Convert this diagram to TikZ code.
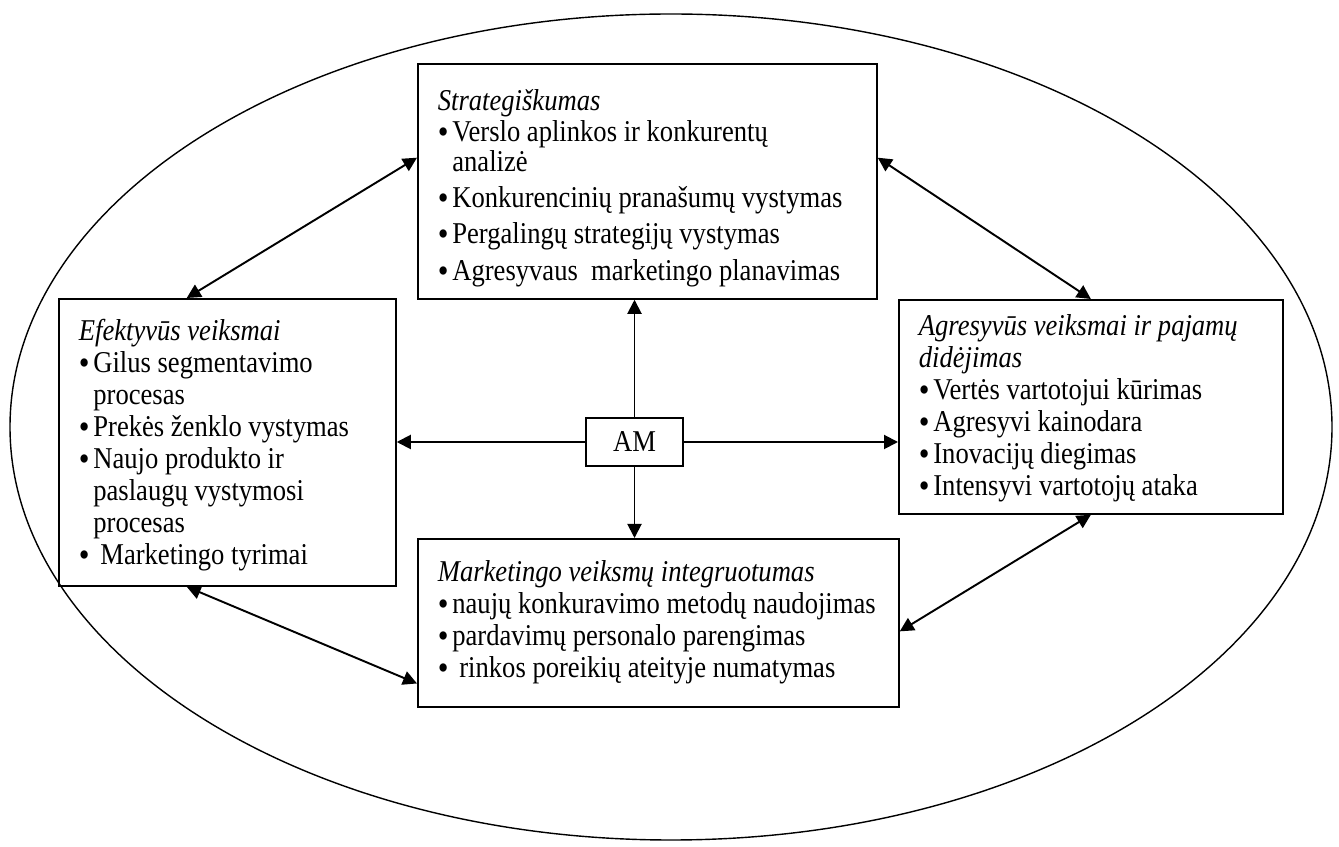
\documentclass[tikz,border=0pt]{standalone}
\usepackage{fontspec}
\setmainfont[FakeStretch=0.88]{Liberation Serif}
\usetikzlibrary{arrows.meta,calc}
\newcommand{\ttl}[1]{\textit{#1}\par}
\newcommand{\itm}[1]{\par\hangindent=0.29cm\hangafter=1\makebox[0.29cm][l]{\raisebox{-0.15ex}{\scalebox{1.15}{•}}}#1}
\tikzset{
  blk/.style={draw, line width=1pt, anchor=north west, inner xsep=0.4cm, inner ysep=0.3cm,
              font=\fontsize{17.2}{18.2}\selectfont},
  amnode/.style={draw, line width=1pt, minimum width=1.94cm, minimum height=0.96cm, inner sep=0pt,
              font=\fontsize{17.2}{18.2}\selectfont},
  oneway/.style={-{Triangle[length=2.8mm,width=2.8mm]}, line width=1.1pt},
  twoway/.style={{Triangle[length=2.8mm,width=2.8mm]}-{Triangle[length=2.8mm,width=2.8mm]}, line width=1.1pt},
  rim/.style={line width=0.8pt},
}
\begin{document}
\begin{tikzpicture}
  \useasboundingbox (0,0) rectangle (26.78,16.94);
  \draw[rim] (13.42,8.40) ellipse [x radius=13.22, y radius=8.26];
  \node[blk] (strat) at (8.34,15.68) {\parbox[c][4.10cm][t]{8.38cm}{\raggedright
      \fontsize{17.2}{17.2}\selectfont\setlength{\parskip}{0.12cm}%
      \vspace*{0.1cm}\ttl{Strategiškumas}\vspace{-\parskip}%
      \itm{Verslo aplinkos ir konkurentų\newline analizė}
      \itm{Konkurencinių pranašumų vystymas}
      \itm{Pergalingų strategijų vystymas}
      \itm{Agresyvaus~ marketingo planavimas}}};
  \node[blk] (efekt) at (1.16,10.98) {\parbox[c][5.14cm][t]{5.94cm}{\raggedright
      \vspace*{0.1cm}\ttl{Efektyvūs veiksmai}
      \itm{Gilus segmentavimo\newline procesas}
      \itm{Prekės ženklo vystymas}
      \itm{Naujo produkto ir\newline paslaugų vystymosi\newline procesas}
      \itm{\hspace{0.14cm}Marketingo tyrimai}}};
  \node[blk] (agres) at (17.96,10.96) {\parbox[c][3.68cm][t]{6.88cm}{\raggedright
      \ttl{Agresyvūs veiksmai ir pajamų\newline didėjimas}
      \itm{Vertės vartotojui kūrimas}
      \itm{Agresyvi kainodara}
      \itm{Inovacijų diegimas}
      \itm{Intensyvi vartotojų ataka}}};
  \node[blk] (market) at (8.34,6.18) {\parbox[c][2.76cm][t]{8.82cm}{\raggedright
      \vspace*{0.14cm}\ttl{Marketingo veiksmų integruotumas}
      \itm{naujų konkuravimo metodų naudojimas}
      \itm{pardavimų personalo parengimas}
      \itm{\hspace{0.14cm}rinkos poreikių ateityje numatymas}}};
  \node[amnode] (am) at (12.69,8.10) {AM};
  \draw[oneway] (am.north) -- (am.north |- strat.south);
  \draw[oneway] (am.south) -- (am.south |- market.north);
  \draw[oneway] (am.west) -- (am.west -| efekt.east);
  \draw[oneway] (am.east) -- (am.east -| agres.west);
  \draw[twoway] ($(strat.north west)!0.4!(strat.south west)$) -- ($(efekt.north west)!0.38!(efekt.north east)$);
  \draw[twoway] ($(strat.north east)!0.4!(strat.south east)$) -- (agres.north);
  \draw[twoway] ($(efekt.south west)!0.38!(efekt.south east)$) -- ($(market.north west)!0.857!(market.south west)$);
  \draw[twoway] ($(market.north east)!0.55!(market.south east)$) -- (agres.south);
\end{tikzpicture}
\end{document}
